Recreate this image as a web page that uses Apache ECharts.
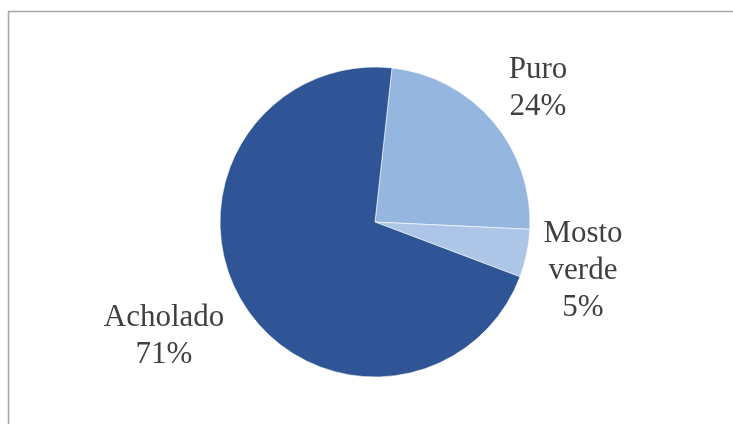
<!DOCTYPE html>
<html>
<head>
<meta charset="utf-8">
<script src="https://cdn.jsdelivr.net/npm/echarts@6/dist/echarts.min.js"></script>
<style>
  html, body { margin: 0; padding: 0; background: #ffffff; }
  #chart { width: 733px; height: 424px; }
</style>
</head>
<body>
<div id="chart"></div>
<script>
// Share of production by pisco type (percent)
const categories = ['Puro', 'Mosto verde', 'Acholado'];
const shares = [24, 5, 71];
const labelText = ['Puro', 'Mosto\nverde', 'Acholado'];

const sliceColors = ['#95B6DF', '#ADC6E8', '#2F5597'];
// label centres (px) for each slice, in category order
const labelSpots = [[538, 88], [583, 271], [164, 336]];

const chart = echarts.init(document.getElementById('chart'), null, { renderer: 'canvas' });

chart.setOption({
  animation: false,
  backgroundColor: '#ffffff',
  graphic: [{
    type: 'rect',
    shape: { x: 8.5, y: 11.5, width: 800, height: 500 },
    style: { fill: 'none', stroke: '#A6A6A6', lineWidth: 1.5 },
    silent: true
  }],
  series: [{
    type: 'pie',
    center: [375, 222],
    radius: 155,
    startAngle: 83.7,
    clockwise: true,
    itemStyle: { borderColor: '#ffffff', borderWidth: 0.6 },
    label: {
      show: true,
      position: 'outside',
      fontFamily: '"Liberation Serif", "Times New Roman", serif',
      fontSize: 31,
      lineHeight: 37,
      color: '#404040',
      align: 'center',
      formatter: p => labelText[p.dataIndex] + '\n' + p.value + '%'
    },
    labelLine: { show: false },
    labelLayout: p => ({
      x: labelSpots[p.dataIndex][0],
      y: labelSpots[p.dataIndex][1],
      align: 'center',
      verticalAlign: 'middle'
    }),
    data: categories.map((name, i) => ({
      name,
      value: shares[i],
      itemStyle: { color: sliceColors[i] }
    }))
  }]
});
</script>
</body>
</html>
